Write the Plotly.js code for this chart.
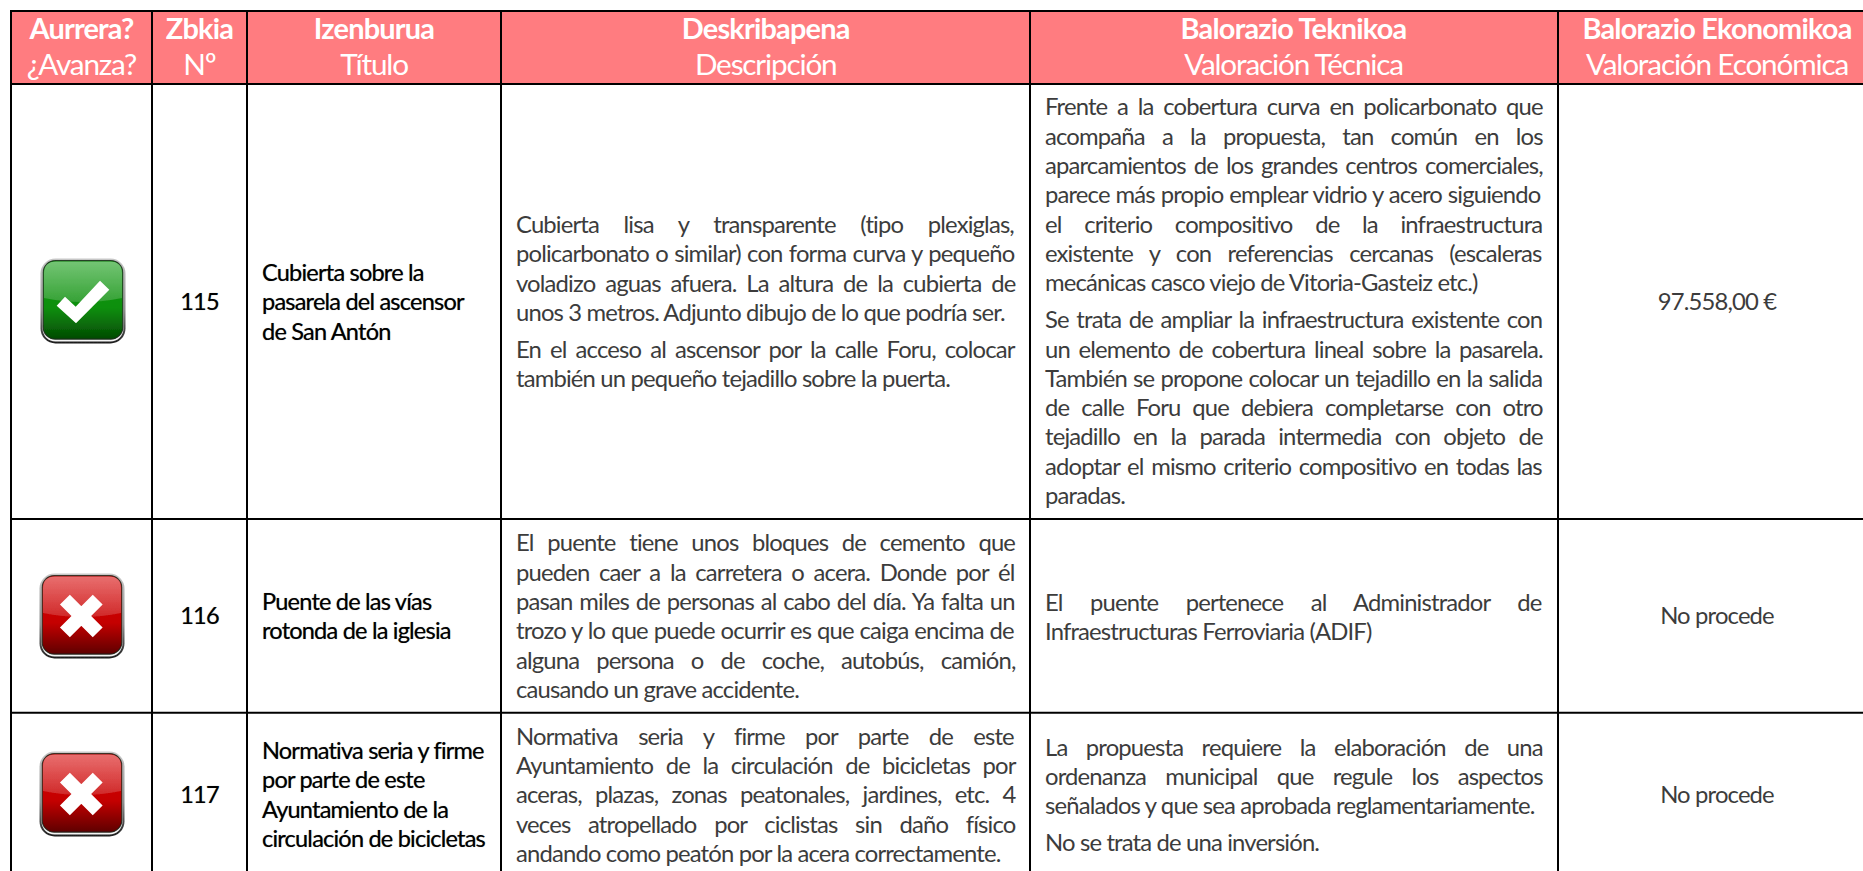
<!DOCTYPE html>
<html lang="es">
<head>
<meta charset="utf-8">
<title>Aurrekontu parte-hartzaileak</title>
<script src="https://cdn.plot.ly/plotly-3.0.1.min.js"></script>
<style>html,body{margin:0;padding:0;background:#fff;overflow:hidden}#chart{width:1863px;height:871px}</style>
</head>
<body>
<div id="chart"></div>
<script>
// ---------- table content ----------
const headerEu = ['Aurrera?', 'Zbkia', 'Izenburua', 'Deskribapena', 'Balorazio Teknikoa', 'Balorazio Ekonomikoa'];
const headerEs = ['¿Avanza?', 'Nº', 'Título', 'Descripción', 'Valoración Técnica', 'Valoración Económica'];
const numbers = ['115', '116', '117'];
const statuses = ['yes', 'no', 'no'];
const costs = ['97.558,00 €', 'No procede', 'No procede'];
const titles = [
  ['Cubierta sobre la', 'pasarela del ascensor', 'de San Antón'],
  ['Puente de las vías', 'rotonda de la iglesia'],
  ['Normativa seria y firme', 'por parte de este', 'Ayuntamiento de la', 'circulación de bicicletas']
];
const descriptions = [
  [['Cubierta lisa y transparente (tipo plexiglas,',
    'policarbonato o similar) con forma curva y pequeño',
    'voladizo aguas afuera. La altura de la cubierta de',
    'unos 3 metros. Adjunto dibujo de lo que podría ser.'],
   ['En el acceso al ascensor por la calle Foru, colocar',
    'también un pequeño tejadillo sobre la puerta.']],
  [['El puente tiene unos bloques de cemento que',
    'pueden caer a la carretera o acera. Donde por él',
    'pasan miles de personas al cabo del día. Ya falta un',
    'trozo y lo que puede ocurrir es que caiga encima de',
    'alguna persona o de coche, autobús, camión,',
    'causando un grave accidente.']],
  [['Normativa seria y firme por parte de este',
    'Ayuntamiento de la circulación de bicicletas por',
    'aceras, plazas, zonas peatonales, jardines, etc. 4',
    'veces atropellado por ciclistas sin daño físico',
    'andando como peatón por la acera correctamente.']]
];
const assessments = [
  [['Frente a la cobertura curva en policarbonato que',
    'acompaña a la propuesta, tan común en los',
    'aparcamientos de los grandes centros comerciales,',
    'parece más propio emplear vidrio y acero siguiendo',
    'el criterio compositivo de la infraestructura',
    'existente y con referencias cercanas (escaleras',
    'mecánicas casco viejo de Vitoria-Gasteiz etc.)'],
   ['Se trata de ampliar la infraestructura existente con',
    'un elemento de cobertura lineal sobre la pasarela.',
    'También se propone colocar un tejadillo en la salida',
    'de calle Foru que debiera completarse con otro',
    'tejadillo en la parada intermedia con objeto de',
    'adoptar el mismo criterio compositivo en todas las',
    'paradas.']],
  [['El puente pertenece al Administrador de',
    'Infraestructuras Ferroviaria (ADIF)']],
  [['La propuesta requiere la elaboración de una',
    'ordenanza municipal que regule los aspectos',
    'señalados y que sea aprobada reglamentariamente.'],
   ['No se trata de una inversión.']]
];

// ---------- layout constants (page pixels, used as axis units) ----------
const W = 1863, H = 871;
const colEdges = [11, 152, 247, 501, 1030, 1558];
const rowEdges = [11, 84, 519, 712.7];
const colCenters = [81.5, 199.5, 374, 765.7, 1293.5, 1717];
const hdrY = [32, 68];
const numberY = [304.5, 618.5, 797.5];
const costY = [304.2, 618.2, 797.2];
const iconTop = [258, 573, 751], iconLeft = [40, 39, 39], iconSize = 86;
const pitch = 29.3, paraGap = 37;
const titleX = 262;
const titleStart = [275.2, 603.8, 753.2];
const descBox = [516, 1015.5], descStart = [227.2, 545.5, 738.8];
const techBox = [1045, 1542.7], techStart = [109.5, 604.8, 749.8];
const INK = '#3c3c3c', BLACK = '#000000', HEAD = '#FF7C80', WHITE = '#ffffff';
const FAMILY = 'Lato';
const HEAVY = '0 0 0.7px rgba(0,0,0,0.55)';

// ---------- text measurement: taller glyphs tightened back to the read line widths ----------
const ctx = document.createElement('canvas').getContext('2d');
function textW(s, size, weight) { ctx.font = weight + ' ' + size + 'px ' + FAMILY; return ctx.measureText(s).width; }
function styleFor(sample, width, weight, grow) {
  const size = grow * 100 * width / textW(sample, 100, weight);
  return { size, weight, ls: (width - textW(sample, size, weight)) / sample.length };
}
const bodyStyle = styleFor('mecánicas casco viejo de Vitoria-Gasteiz etc.)', 434, 400, 1.09);
const titleStyle = styleFor('circulación de bicicletas', 223, 400, 1.09);
const hdrBold = styleFor('Balorazio Ekonomikoa', 269, 700, 1.06);
const hdrLight = styleFor('Valoración Económica', 262, 400, 1.09);

function styled(text, st, wordExtra) {
  let css = 'letter-spacing:' + st.ls.toFixed(3) + 'px';
  if (wordExtra !== undefined) css += ';word-spacing:' + wordExtra.toFixed(2) + 'px';
  return '<span style="' + css + '">' + text + '</span>';
}

// ---------- justified lines ----------
const body = { x: [], y: [], text: [] };
function addCell(paragraphs, box, start) {
  let y = start;
  paragraphs.forEach((lines) => {
    lines.forEach((line, li) => {
      const gaps = line.split(' ').length - 1;
      let label = styled(line, bodyStyle);
      if (li < lines.length - 1 && gaps > 0) {
        const natural = textW(line, bodyStyle.size, bodyStyle.weight) + bodyStyle.ls * line.length;
        label = styled(line, bodyStyle, (box[1] - box[0] - natural) / gaps);
      }
      body.x.push(box[0]); body.y.push(y); body.text.push(label);
      if (li < lines.length - 1) y += pitch;
    });
    y += paraGap;
  });
}
descriptions.forEach((c, i) => addCell(c, descBox, descStart[i]));
assessments.forEach((c, i) => addCell(c, techBox, techStart[i]));

const titleRows = { x: [], y: [], text: [] };
titles.forEach((lines, i) => lines.forEach((t, j) => {
  titleRows.x.push(titleX); titleRows.y.push(titleStart[i] + j * pitch); titleRows.text.push(styled(t, titleStyle));
}));

function textTrace(x, y, text, pos, st, color, shadow) {
  const textfont = { family: FAMILY, size: st.size, weight: st.weight, color };
  if (shadow) textfont.shadow = shadow;
  return { type: 'scatter', mode: 'text', x, y, text, textposition: pos, cliponaxis: false,
    textfont, hoverinfo: 'skip', showlegend: false };
}
const traces = [
  textTrace(colCenters, colCenters.map(() => hdrY[0]), headerEu.map(t => styled(t, hdrBold)), 'middle center', hdrBold, WHITE),
  textTrace(colCenters, colCenters.map(() => hdrY[1]), headerEs.map(t => styled(t, hdrLight)), 'middle center', hdrLight, WHITE),
  textTrace(numbers.map(() => colCenters[1]), numberY, numbers.map(t => styled(t, titleStyle)), 'middle center', titleStyle, BLACK, HEAVY),
  textTrace(titleRows.x, titleRows.y, titleRows.text, 'middle right', titleStyle, BLACK, HEAVY),
  textTrace(body.x, body.y, body.text, 'middle right', bodyStyle, INK),
  textTrace(costs.map(() => colCenters[5]), costY, costs.map(t => styled(t, bodyStyle)), 'middle center', bodyStyle, INK)
];

// ---------- rules and header band ----------
const black = { color: '#000', width: 2 };
const shapes = [{ type: 'rect', layer: 'below', xref: 'x', yref: 'y', x0: colEdges[0], x1: W, y0: rowEdges[0], y1: rowEdges[1], fillcolor: HEAD, line: { width: 0 } }];
colEdges.forEach(x => shapes.push({ type: 'line', xref: 'x', yref: 'y', x0: x, x1: x, y0: rowEdges[0] - 1, y1: H, line: black }));
rowEdges.forEach(y => shapes.push({ type: 'line', xref: 'x', yref: 'y', x0: colEdges[0] - 1, x1: W, y0: y, y1: y, line: black }));

// ---------- status icons ----------
function iconUri(kind) {
  const yes = kind === 'yes';
  const c = yes ? ['#0f9a10', '#118f10', '#024a02'] : ['#d80606', '#c40000', '#5e0000'];
  const glyph = yes
    ? '<polygon points="16.7,47.7 25,38.7 35.7,48.7 60,22.7 69.3,31.7 36,65.3" fill="#fff"/>'
    : '<path d="M25.9 26.6L58.7 59.4M58.7 26.6L25.9 59.4" stroke="#fff" stroke-width="14" fill="none"/>';
  const svg = '<svg xmlns="http://www.w3.org/2000/svg" width="172" height="172" viewBox="0 0 86 86"><defs>' +
    '<linearGradient id="o" x1="0" y1="0" x2="0" y2="1"><stop offset="0" stop-color="#c8c8c8"/><stop offset=".6" stop-color="#8f8f8f"/><stop offset="1" stop-color="#1c1c1c"/></linearGradient>' +
    '<linearGradient id="f" x1="0" y1="0" x2="0" y2="1"><stop offset="0" stop-color="' + c[0] + '"/><stop offset=".6" stop-color="' + c[1] + '"/><stop offset="1" stop-color="' + c[2] + '"/></linearGradient>' +
    '<linearGradient id="g" x1="0" y1="0" x2="0" y2="1"><stop offset="0" stop-color="#fff" stop-opacity=".42"/><stop offset="1" stop-color="#fff" stop-opacity=".16"/></linearGradient>' +
    '<filter id="b"><feGaussianBlur stdDeviation="0.4"/></filter></defs><g filter="url(#b)">' +
    '<rect x="0.5" y="0.5" width="85" height="85" rx="15" fill="url(#o)"/>' +
    '<rect x="2.5" y="2.5" width="81" height="81" rx="13" fill="#f4f4f4"/>' +
    '<rect x="3.2" y="2.6" width="79.6" height="78.6" rx="12" fill="url(#f)" stroke="#142014" stroke-opacity=".8" stroke-width="1.2"/>' +
    '<path d="M4 40Q43 48 82 40V15Q82 3.4 70 3.4H16Q4 3.4 4 15Z" fill="url(#g)"/>' +
    glyph + '</g></svg>';
  return 'data:image/svg+xml;base64,' + btoa(svg);
}
const images = statuses.map((s, i) => ({
  source: iconUri(s), xref: 'x', yref: 'y', x: iconLeft[i], y: iconTop[i],
  sizex: iconSize, sizey: iconSize, xanchor: 'left', yanchor: 'top', sizing: 'stretch', layer: 'above'
}));

const layout = {
  width: W, height: H, autosize: false,
  margin: { l: 0, r: 0, t: 0, b: 0, pad: 0 },
  paper_bgcolor: WHITE, plot_bgcolor: WHITE, showlegend: false,
  xaxis: { range: [0, W], visible: false, fixedrange: true },
  yaxis: { range: [H, 0], visible: false, fixedrange: true },
  shapes, images
};
Plotly.newPlot('chart', traces, layout, { displayModeBar: false, staticPlot: true });
</script>
</body>
</html>
